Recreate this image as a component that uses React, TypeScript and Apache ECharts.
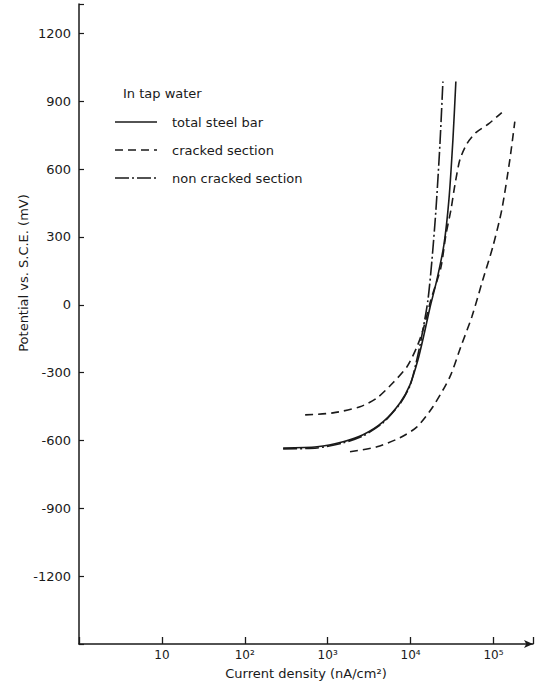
import React, { useEffect, useRef } from "react";
import * as echarts from "echarts";

// Current density (nA/cm²) vs potential (mV vs S.C.E.)
const totalSteelBar: [number, number][] = [
  [290, -633], [745, -628], [1535, -606], [2673, -575], [4645, -518], [7450, -434],
  [9840, -354], [12280, -243], [14500, -133], [17130, -13], [20800, 111], [25250, 265],
  [29030, 465], [32430, 730], [35200, 987],
];
const crackedSectionA: [number, number][] = [
  [535, -487], [1160, -478], [2455, -451], [3935, -412], [6140, -345], [9050, -274],
  [11950, -186], [14500, -97], [17600, 22], [23200, 164], [26700, 310], [30700, 420],
  [34300, 531], [39400, 642], [47800, 712], [61300, 761], [88000, 801], [126000, 850],
];
const crackedSectionB: [number, number][] = [
  [1860, -650], [3935, -628], [7450, -588], [11950, -540], [18600, -451], [29800, -319],
  [40000, -190], [54900, -53], [74500, 111], [98400, 257], [126000, 420], [157700, 642], [181000, 810],
];
const nonCrackedSection: [number, number][] = [
  [290, -637], [745, -633], [1535, -611], [2673, -580], [4645, -522], [7450, -438],
  [9840, -358], [12280, -221], [14090, -111], [16220, 22], [18130, 199], [20240, 420],
  [22600, 708], [24560, 987],
];

const legendTitle = "In tap water";
const legendNames = ["total steel bar", "cracked section", "non cracked section"];
const xTickLabels = ["", "10", "10²", "10³", "10⁴", "10⁵"];
const yTickValues = [-1200, -900, -600, -300, 0, 300, 600, 900, 1200];

const FONT = "DejaVu Sans";
const INK = "#1a1a1a";
const DASH: number[] = [8, 5];
const DASH_DOT: number[] = [14, 3, 2, 3];

export default function App() {
  const ref = useRef<HTMLDivElement>(null);
  useEffect(() => {
    if (!ref.current) return;
    const chart = echarts.init(ref.current, null, { renderer: "svg" });
    const lineBase = { type: "line", symbol: "none", smooth: 0.25, animation: false };
    const legendStyles = [
      { lineWidth: 1.6, stroke: INK },
      { lineWidth: 1.6, stroke: INK, lineDash: DASH },
      { lineWidth: 1.6, stroke: INK, lineDash: DASH_DOT },
    ];
    const legendGraphics: any[] = [
      {
        type: "text",
        x: 123,
        y: 93,
        style: { text: legendTitle, fontFamily: FONT, fontSize: 13, fill: INK, verticalAlign: "middle" },
      },
    ];
    legendNames.forEach((n, i) => {
      const y = 122 + i * 28;
      legendGraphics.push({
        type: "line",
        shape: { x1: 115, y1: y, x2: 157, y2: y },
        style: legendStyles[i],
      });
      legendGraphics.push({
        type: "text",
        x: 172,
        y,
        style: { text: n, fontFamily: FONT, fontSize: 13, fill: INK, verticalAlign: "middle" },
      });
    });
    chart.setOption({
      animation: false,
      backgroundColor: "#ffffff",
      textStyle: { fontFamily: FONT, color: INK },
      grid: { left: 79, right: 2, top: 4, bottom: 44 },
      xAxis: {
        type: "log",
        logBase: 10,
        min: 1,
        max: 300000,
        name: "Current density (nA/cm²)",
        nameLocation: "middle",
        nameGap: 23,
        nameTextStyle: { fontFamily: FONT, fontSize: 13, color: INK },
        axisLine: {
          onZero: false,
          lineStyle: { color: INK, width: 1.5 },
          symbol: ["none", "arrow"],
          symbolSize: [6, 9],
        },
        axisTick: { inside: true, length: 7, lineStyle: { color: INK, width: 1.3 } },
        axisLabel: {
          fontFamily: FONT,
          fontSize: 12,
          color: INK,
          margin: 5,
          formatter: (v: number) => {
            const k = Math.round(Math.log10(v));
            return Math.abs(Math.log10(v) - k) < 1e-6 ? xTickLabels[k] ?? "" : "";
          },
        },
        splitLine: { show: false },
        minorTick: { show: false },
      },
      yAxis: {
        type: "value",
        min: -1500,
        max: 1330,
        interval: 300,
        axisLine: { show: true, onZero: false, lineStyle: { color: INK, width: 1.5 } },
        axisTick: { show: true, inside: true, length: 5, lineStyle: { color: INK, width: 1.2 } },
        axisLabel: {
          fontFamily: FONT,
          fontSize: 13,
          color: INK,
          margin: 8,
          formatter: (v: number) => (yTickValues.indexOf(v) >= 0 ? String(v) : ""),
        },
        splitLine: { show: false },
      },
      graphic: [
        {
          type: "text",
          x: 23,
          y: 273,
          rotation: Math.PI / 2,
          style: {
            text: "Potential vs. S.C.E. (mV)",
            fontFamily: FONT,
            fontSize: 13,
            fill: INK,
            align: "center",
            verticalAlign: "middle",
          },
        },
        ...legendGraphics,
      ],
      series: [
        {
          ...lineBase,
          name: legendNames[0],
          data: totalSteelBar,
          lineStyle: { color: INK, width: 1.6, type: "solid" },
        },
        {
          ...lineBase,
          name: legendNames[1],
          data: crackedSectionA,
          lineStyle: { color: INK, width: 1.6, type: DASH },
        },
        {
          ...lineBase,
          name: legendNames[1],
          data: crackedSectionB,
          lineStyle: { color: INK, width: 1.6, type: DASH },
        },
        {
          ...lineBase,
          name: legendNames[2],
          data: nonCrackedSection,
          lineStyle: { color: INK, width: 1.6, type: DASH_DOT },
        },
      ],
    });
    return () => chart.dispose();
  }, []);
  return (
    <div
      ref={ref}
      style={{ position: "fixed", left: 0, top: 0, width: 536, height: 688, background: "#fff" }}
    />
  );
}
